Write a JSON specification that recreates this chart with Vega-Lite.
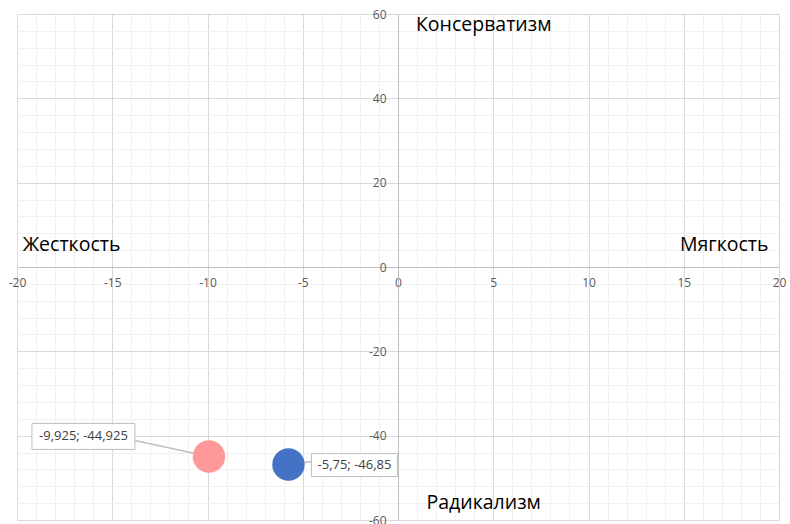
{
  "$schema": "https://vega.github.io/schema/vega-lite/v6.json",
  "width": 762,
  "height": 506,
  "autosize": "none",
  "padding": {"left": 17, "top": 14, "right": 11, "bottom": 4},
  "background": "white",
  "config": {"view": {"stroke": null}, "font": "Open Sans"},
  "datasets": {
    "points": [
      {"series": "A", "x": -9.925, "y": -44.925, "label": "-9,925; -44,925"},
      {"series": "B", "x": -5.75, "y": -46.85, "label": "-5,75; -46,85"}
    ],
    "notes": [
      {"text": "Консерватизм", "x": 4.5, "y": 57.4, "anchor": "center"},
      {"text": "Радикализм", "x": 4.5, "y": -56.0, "anchor": "center"},
      {"text": "Жесткость", "x": -19.7, "y": 5.2, "anchor": "left"},
      {"text": "Мягкость", "x": 19.45, "y": 5.2, "anchor": "right"}
    ]
  },
  "data": {"name": "points"},
  "encoding": {
    "x": {
      "field": "x", "type": "quantitative",
      "scale": {"domain": [-20, 20], "nice": false, "zero": false},
      "axis": {
        "title": null,
        "values": [-20,-19,-18,-17,-16,-15,-14,-13,-12,-11,-10,-9,-8,-7,-6,-5,-4,-3,-2,-1,0,1,2,3,4,5,6,7,8,9,10,11,12,13,14,15,16,17,18,19,20],
        "labelExpr": "datum.value % 5 === 0 ? toString(datum.value) : ''",
        "offset": -253,
        "ticks": false,
        "domainColor": "#bfbfbf",
        "labelColor": "#595959",
        "labelFontSize": 12,
        "labelPadding": 10,
        "labelFlush": false,
        "labelOverlap": false,
        "gridColor": {"condition": {"test": "datum.value % 5 === 0", "value": "#d9d9d9"}, "value": "#f0f0f0"}
      }
    },
    "y": {
      "field": "y", "type": "quantitative",
      "scale": {"domain": [-60, 60], "nice": false, "zero": false},
      "axis": {
        "title": null,
        "values": [-60,-56,-52,-48,-44,-40,-36,-32,-28,-24,-20,-16,-12,-8,-4,0,4,8,12,16,20,24,28,32,36,40,44,48,52,56,60],
        "labelExpr": "datum.value % 20 === 0 ? toString(datum.value) : ''",
        "offset": -381,
        "ticks": false,
        "domainColor": "#bfbfbf",
        "labelColor": "#595959",
        "labelFontSize": 12,
        "labelPadding": 12,
        "labelFlush": false,
        "labelOverlap": false,
        "gridColor": {"condition": {"test": "datum.value % 20 === 0", "value": "#d9d9d9"}, "value": "#f0f0f0"}
      }
    }
  },
  "layer": [
    {
      "data": {"name": "notes"},
      "transform": [{"filter": "datum.anchor === 'center'"}],
      "mark": {"type": "text", "fontSize": 19.5, "color": "#000000", "baseline": "middle", "align": "center"},
      "encoding": {"text": {"field": "text"}}
    },
    {
      "data": {"name": "notes"},
      "transform": [{"filter": "datum.anchor === 'left'"}],
      "mark": {"type": "text", "fontSize": 19.5, "color": "#000000", "baseline": "middle", "align": "left"},
      "encoding": {"text": {"field": "text"}}
    },
    {
      "data": {"name": "notes"},
      "transform": [{"filter": "datum.anchor === 'right'"}],
      "mark": {"type": "text", "fontSize": 19.5, "color": "#000000", "baseline": "middle", "align": "right"},
      "encoding": {"text": {"field": "text"}}
    },
    {
      "transform": [{"filter": "datum.series === 'A'"}],
      "mark": {"type": "rule", "color": "#bfbfbf", "strokeWidth": 1.5, "x2Offset": -74, "y2Offset": -16},
      "encoding": {"x2": {"field": "x"}, "y2": {"field": "y"}}
    },
    {
      "transform": [{"filter": "datum.series === 'A'"}],
      "mark": {"type": "rect", "fill": "white", "stroke": "#bfbfbf", "strokeWidth": 1, "xOffset": -177, "x2Offset": -74, "yOffset": -33, "y2Offset": -7},
      "encoding": {"x2": {"field": "x"}, "y2": {"field": "y"}}
    },
    {
      "transform": [{"filter": "datum.series === 'A'"}],
      "mark": {"type": "text", "fontSize": 13, "color": "#404040", "align": "center", "baseline": "middle", "dx": -125.5, "dy": -20},
      "encoding": {"text": {"field": "label"}}
    },
    {
      "transform": [{"filter": "datum.series === 'B'"}],
      "mark": {"type": "rule", "color": "#bfbfbf", "strokeWidth": 1.5, "x2Offset": 23, "y2Offset": -3},
      "encoding": {"x2": {"field": "x"}, "y2": {"field": "y"}}
    },
    {
      "transform": [{"filter": "datum.series === 'B'"}],
      "mark": {"type": "rect", "fill": "white", "stroke": "#bfbfbf", "strokeWidth": 1, "xOffset": 23, "x2Offset": 109, "yOffset": -11, "y2Offset": 12},
      "encoding": {"x2": {"field": "x"}, "y2": {"field": "y"}}
    },
    {
      "transform": [{"filter": "datum.series === 'B'"}],
      "mark": {"type": "text", "fontSize": 13, "color": "#404040", "align": "center", "baseline": "middle", "dx": 66, "dy": 0.5},
      "encoding": {"text": {"field": "label"}}
    },
    {
      "mark": {"type": "circle", "size": 1050, "opacity": 1},
      "encoding": {
        "color": {"field": "series", "type": "nominal", "scale": {"domain": ["A", "B"], "range": ["#ff9999", "#4472c4"]}, "legend": null}
      }
    }
  ]
}
